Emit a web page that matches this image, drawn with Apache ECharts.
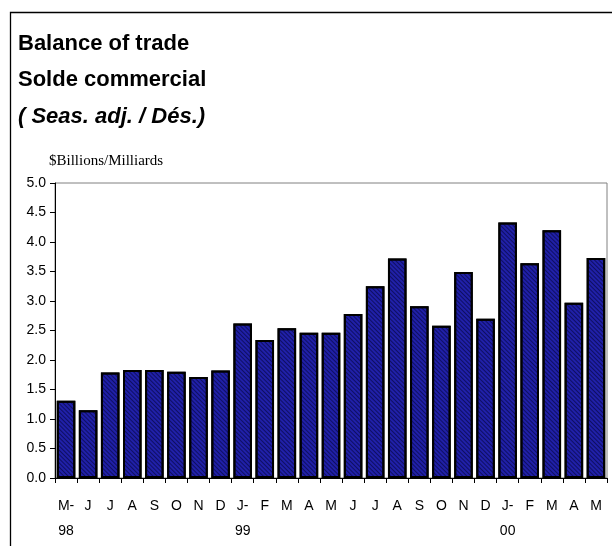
<!DOCTYPE html>
<html>
<head>
<meta charset="utf-8">
<script src="https://cdn.jsdelivr.net/npm/echarts@6/dist/echarts.min.js"></script>
<style>
  html, body { margin: 0; padding: 0; background: #fff; }
  #chart { width: 612px; height: 546px; }
</style>
</head>
<body>
<div id="chart"></div>
<script>
const monthLabels = ["M-","J","J","A","S","O","N","D","J-","F","M","A","M","J","J","A","S","O","N","D","J-","F","M","A","M"];
const yearLabels  = ["98","","","","","","","","99","","","","","","","","","","","","00","","","",""];
const balance = [1.31,1.15,1.79,1.83,1.83,1.80,1.71,1.82,2.62,2.34,2.54,2.46,2.46,2.78,3.25,3.72,2.91,2.58,3.49,2.70,4.33,3.64,4.20,2.97,3.73];
const yTicks = { min: 0, max: 5, interval: 0.5 };

const categories = monthLabels.map((m, i) => m + "\n" + yearLabels[i]);

const chart = echarts.init(document.getElementById('chart'), null, { renderer: 'canvas' });
chart.setOption({
  animation: false,
  backgroundColor: '#ffffff',
  title: [
    { text: 'Balance of trade', left: 13, top: 28,
      textStyle: { fontFamily: 'Liberation Sans', fontWeight: 'bold', fontSize: 22, color: '#000' } },
    { text: 'Solde commercial', left: 13, top: 64,
      textStyle: { fontFamily: 'Liberation Sans', fontWeight: 'bold', fontSize: 22, color: '#000' } },
    { text: '( Seas. adj. / Dés.)', left: 13, top: 101,
      textStyle: { fontFamily: 'Liberation Sans', fontWeight: 'bold', fontStyle: 'italic', fontSize: 22, color: '#000' } },
    { text: '$Billions/Milliards', left: 44, top: 149,
      textStyle: { fontFamily: 'Liberation Serif', fontWeight: 'normal', fontSize: 15, color: '#000' } }
  ],
  graphic: [
    { type: 'rect', silent: true, z: 100,
      shape: { x: 10.5, y: 12.5, width: 800, height: 800 },
      style: { fill: 'none', stroke: '#000', lineWidth: 1.3 } }
  ],
  grid: { left: 55, right: 5, top: 183, bottom: 68, show: true, borderColor: '#808080', borderWidth: 1, backgroundColor: 'transparent' },
  xAxis: {
    type: 'category',
    data: categories,
    axisLine: { show: true, lineStyle: { color: '#000', width: 1 } },
    axisTick: { show: true, alignWithLabel: false, length: 5, lineStyle: { color: '#000' } },
    axisLabel: { interval: 0, margin: 16, fontFamily: 'Liberation Sans', fontSize: 14, color: '#000', lineHeight: 25 },
    splitLine: { show: false }
  },
  yAxis: {
    type: 'value',
    min: yTicks.min, max: yTicks.max, interval: yTicks.interval,
    axisLine: { show: true, lineStyle: { color: '#000', width: 1 } },
    axisTick: { show: true, length: 5, lineStyle: { color: '#000' } },
    axisLabel: { margin: 9, fontFamily: 'Liberation Sans', fontSize: 14, color: '#000',
      formatter: v => v.toFixed(1) },
    splitLine: { show: false }
  },
  series: [{
    type: 'bar',
    data: balance,
    barCategoryGap: '16%',
    itemStyle: {
      color: '#2020a8',
      borderColor: '#000',
      borderWidth: 2,
      decal: { symbol: 'rect', symbolSize: 1, color: 'rgba(0,0,40,0.55)',
        dashArrayX: [[1, 0]], dashArrayY: [1, 2], rotation: Math.PI / 4 }
    }
  }]
});
</script>
</body>
</html>
